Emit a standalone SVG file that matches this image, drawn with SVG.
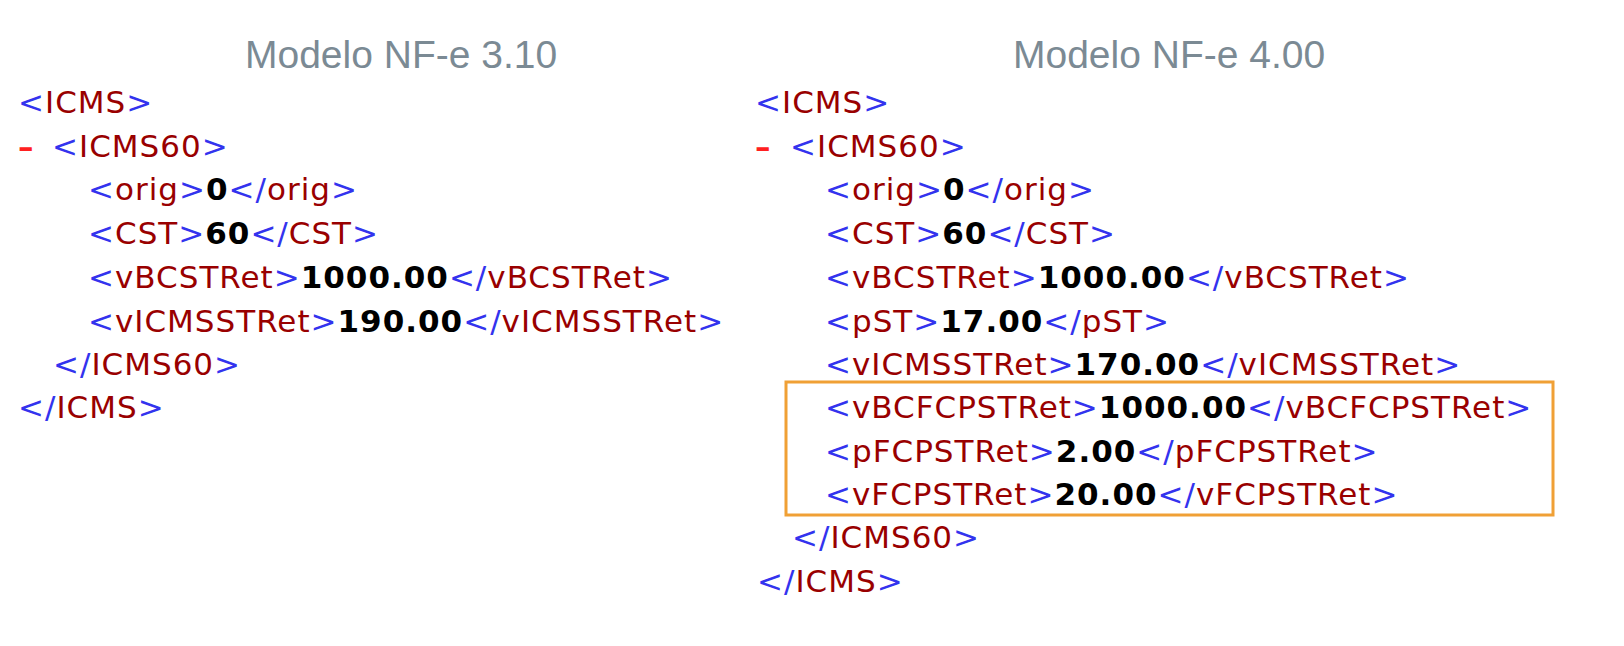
<svg xmlns="http://www.w3.org/2000/svg" width="1624" height="646" viewBox="0 0 1624 646">
<style>
text{font-family:"DejaVu Sans",sans-serif;font-size:31px;letter-spacing:1px;fill:#990000}
.t{font-family:"Liberation Sans",Arial,sans-serif;font-size:39px;letter-spacing:0;fill:#7b8a94}
.p{fill:#3333ee}
.v{fill:#000;font-weight:bold}
.m{fill:#ff2020;font-weight:bold}
</style>
<rect width="1624" height="646" fill="#fff"/>
<text class="t" x="245" y="68">Modelo NF-e 3.10</text>
<text class="t" x="1013" y="68">Modelo NF-e 4.00</text>
<g id="left">
<text x="18" y="113"><tspan class="p">&lt;</tspan>ICMS<tspan class="p">&gt;</tspan></text>
<text x="18" y="157"><tspan class="m">–</tspan><tspan class="p" x="52">&lt;</tspan>ICMS60<tspan class="p">&gt;</tspan></text>
<text x="88" y="200"><tspan class="p">&lt;</tspan>orig<tspan class="p">&gt;</tspan><tspan class="v">0</tspan><tspan class="p">&lt;/</tspan>orig<tspan class="p">&gt;</tspan></text>
<text x="88" y="244"><tspan class="p">&lt;</tspan>CST<tspan class="p">&gt;</tspan><tspan class="v">60</tspan><tspan class="p">&lt;/</tspan>CST<tspan class="p">&gt;</tspan></text>
<text x="88" y="288"><tspan class="p">&lt;</tspan>vBCSTRet<tspan class="p">&gt;</tspan><tspan class="v">1000.00</tspan><tspan class="p">&lt;/</tspan>vBCSTRet<tspan class="p">&gt;</tspan></text>
<text x="88" y="332"><tspan class="p">&lt;</tspan>vICMSSTRet<tspan class="p">&gt;</tspan><tspan class="v">190.00</tspan><tspan class="p">&lt;/</tspan>vICMSSTRet<tspan class="p">&gt;</tspan></text>
<text x="53" y="375"><tspan class="p">&lt;/</tspan>ICMS60<tspan class="p">&gt;</tspan></text>
<text x="18" y="418"><tspan class="p">&lt;/</tspan>ICMS<tspan class="p">&gt;</tspan></text>
</g>
<g id="right">
<rect x="786" y="382" width="767" height="133" fill="none" stroke="#f0a035" stroke-width="3"/>
<text x="755" y="113"><tspan class="p">&lt;</tspan>ICMS<tspan class="p">&gt;</tspan></text>
<text x="755" y="157"><tspan class="m">–</tspan><tspan class="p" x="790">&lt;</tspan>ICMS60<tspan class="p">&gt;</tspan></text>
<text x="825" y="200"><tspan class="p">&lt;</tspan>orig<tspan class="p">&gt;</tspan><tspan class="v">0</tspan><tspan class="p">&lt;/</tspan>orig<tspan class="p">&gt;</tspan></text>
<text x="825" y="244"><tspan class="p">&lt;</tspan>CST<tspan class="p">&gt;</tspan><tspan class="v">60</tspan><tspan class="p">&lt;/</tspan>CST<tspan class="p">&gt;</tspan></text>
<text x="825" y="288"><tspan class="p">&lt;</tspan>vBCSTRet<tspan class="p">&gt;</tspan><tspan class="v">1000.00</tspan><tspan class="p">&lt;/</tspan>vBCSTRet<tspan class="p">&gt;</tspan></text>
<text x="825" y="332"><tspan class="p">&lt;</tspan>pST<tspan class="p">&gt;</tspan><tspan class="v">17.00</tspan><tspan class="p">&lt;/</tspan>pST<tspan class="p">&gt;</tspan></text>
<text x="825" y="375"><tspan class="p">&lt;</tspan>vICMSSTRet<tspan class="p">&gt;</tspan><tspan class="v">170.00</tspan><tspan class="p">&lt;/</tspan>vICMSSTRet<tspan class="p">&gt;</tspan></text>
<text x="825" y="418"><tspan class="p">&lt;</tspan>vBCFCPSTRet<tspan class="p">&gt;</tspan><tspan class="v">1000.00</tspan><tspan class="p">&lt;/</tspan>vBCFCPSTRet<tspan class="p">&gt;</tspan></text>
<text x="825" y="462"><tspan class="p">&lt;</tspan>pFCPSTRet<tspan class="p">&gt;</tspan><tspan class="v">2.00</tspan><tspan class="p">&lt;/</tspan>pFCPSTRet<tspan class="p">&gt;</tspan></text>
<text x="825" y="505"><tspan class="p">&lt;</tspan>vFCPSTRet<tspan class="p">&gt;</tspan><tspan class="v">20.00</tspan><tspan class="p">&lt;/</tspan>vFCPSTRet<tspan class="p">&gt;</tspan></text>
<text x="792" y="548"><tspan class="p">&lt;/</tspan>ICMS60<tspan class="p">&gt;</tspan></text>
<text x="757" y="592"><tspan class="p">&lt;/</tspan>ICMS<tspan class="p">&gt;</tspan></text>
</g>
</svg>
